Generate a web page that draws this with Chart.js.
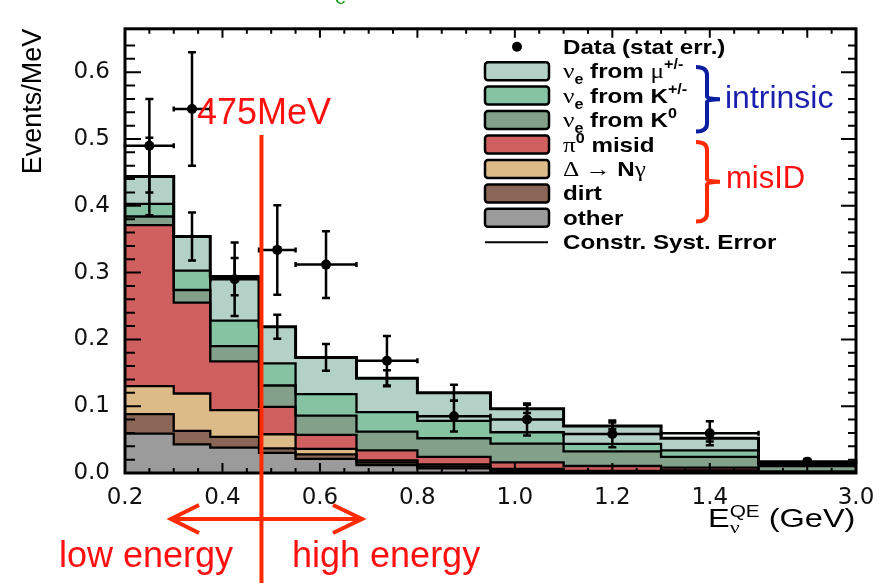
<!DOCTYPE html>
<html lang="en">
<head>
<meta charset="UTF-8">
<title>MiniBooNE nu_e candidates</title>
<script src="https://cdn.jsdelivr.net/npm/chart.js@4.4.3/dist/chart.umd.min.js"></script>
<style>
    * { margin: 0; padding: 0; }
    body { background: #fff; }
    .chartBox { width: 889px; height: 583px; }
</style>
</head>
<body>
<div class="chartBox"><canvas id="myChart" width="889" height="583"></canvas></div>
<script>
// bin edges in GeV, the last bin (1.5 - 3.0) is squeezed on the axis
const binEdges = [0.2, 0.3, 0.375, 0.475, 0.55, 0.675, 0.8, 0.95, 1.1, 1.3, 1.5, 3.0];
const binCenters = [0.25, 0.3375, 0.425, 0.5125, 0.6125, 0.7375, 0.875, 1.025, 1.2, 1.4, 2.25];

// stacked MC components, events/MeV per bin (bottom to top)
const other = [0.059, 0.043, 0.038, 0.030, 0.021, 0.012, 0.007, 0.003, 0.001, 0.002, 0.0005];
const dirt  = [0.029, 0.020, 0.016, 0.007, 0.007, 0.004, 0.003, 0.002, 0.001, 0.001, 0.0005];
const deltaNg = [0.042, 0.056, 0.040, 0.021, 0.008, 0.003, 0.003, 0.001, 0.001, 0.001, 0.0002];
const pi0 = [0.241, 0.136, 0.073, 0.041, 0.021, 0.015, 0.011, 0.010, 0.0075, 0.004, 0.0013];
const nueK0 = [0.013, 0.019, 0.023, 0.032, 0.029, 0.028, 0.028, 0.028, 0.022, 0.016, 0.008];
const nueKpm = [0.019, 0.029, 0.038, 0.033, 0.032, 0.029, 0.026, 0.017, 0.011, 0.010, 0.003];
const nueMu = [0.041, 0.051, 0.066, 0.055, 0.055, 0.051, 0.042, 0.035, 0.027, 0.018, 0.003];
const systErr = [0.058, 0.036, 0.028, 0.018, 0.020, 0.012, 0.012, 0.006, 0.005, 0.005, 0.002];

// data with stat errors
const dataY   = [0.49, 0.545, 0.29, 0.334, 0.312, 0.168, 0.085, 0.080, 0.0585, 0.0595, 0.017];
const dataErr = [0.07, 0.085, 0.055, 0.067, 0.05, 0.037, 0.023, 0.024, 0.020, 0.018, 0.004];

const xTickLabels = [0.2, 0.4, 0.6, 0.8, 1.0, 1.2, 1.4, 3.0];
const cutEnergy = 0.48;

// axis position: linear up to 1.5 GeV, then 1.5-3.0 packed into 0.2
const toAxis = e => e <= 1.5 ? e : 1.5 + (e - 1.5) * 0.2 / 1.5;

const layers = [
    { label: 'other', values: other, color: '#9b9b9b' },
    { label: 'dirt', values: dirt, color: '#8a6656' },
    { label: 'Delta', values: deltaNg, color: '#ddbb88' },
    { label: 'pi0 misid', values: pi0, color: '#d05f5f' },
    { label: 'nue K0', values: nueK0, color: '#82a08a' },
    { label: 'nue K+/-', values: nueKpm, color: '#85c3a3' },
    { label: 'nue mu', values: nueMu, color: '#b3d1c6' }
];

let cum = other.map(() => 0);
const datasets = layers.map((l, i) => {
    cum = cum.map((c, j) => c + l.values[j]);
    const top = cum.slice();
    return {
        label: l.label,
        data: binEdges.map((e, j) => ({ x: toAxis(e), y: top[Math.min(j, top.length - 1)] })),
        stepped: true,
        fill: i === 0 ? 'origin' : '-1',
        backgroundColor: l.color,
        borderColor: '#000',
        borderWidth: i === layers.length - 1 ? 3 : 2.3,
        pointRadius: 0
    };
});
const mcTotal = cum;

function richText(ctx, x, y, parts, sx) {
    ctx.save();
    ctx.translate(x, y);
    ctx.scale(sx, 1);
    let cx = 0;
    parts.forEach(p => {
        ctx.font = p.font;
        ctx.fillText(p.t, cx, p.dy || 0);
        if (!p.stay) cx += ctx.measureText(p.t).width;
    });
    ctx.restore();
}

const B = 'bold 21px "Liberation Sans"';
const G = '22px "Liberation Serif"';
const SUB = 'bold 14px "Liberation Sans"';

const decor = {
    id: 'decor',
    afterDraw(chart) {
        const { ctx, chartArea: a, scales: { x, y } } = chart;
        ctx.save();
        ctx.strokeStyle = '#000';
        ctx.fillStyle = '#000';

        // MC constrained syst error
        ctx.lineWidth = 2.5;
        binCenters.forEach((c, i) => {
            const px = x.getPixelForValue(toAxis(c));
            const y1 = y.getPixelForValue(mcTotal[i] - systErr[i]);
            const y2 = y.getPixelForValue(mcTotal[i] + systErr[i]);
            ctx.beginPath();
            ctx.moveTo(px, y1); ctx.lineTo(px, y2);
            ctx.moveTo(px - 4, y1); ctx.lineTo(px + 4, y1);
            ctx.moveTo(px - 4, y2); ctx.lineTo(px + 4, y2);
            ctx.stroke();
        });

        // data points
        binCenters.forEach((c, i) => {
            const px = x.getPixelForValue(toAxis(c));
            const py = y.getPixelForValue(dataY[i]);
            const xl = x.getPixelForValue(toAxis(binEdges[i]));
            const xr = x.getPixelForValue(toAxis(binEdges[i + 1]));
            const y1 = y.getPixelForValue(dataY[i] - dataErr[i]);
            const y2 = y.getPixelForValue(dataY[i] + dataErr[i]);
            ctx.beginPath();
            ctx.moveTo(xl, py); ctx.lineTo(xr, py);
            ctx.moveTo(xl, py - 2.5); ctx.lineTo(xl, py + 2.5);
            ctx.moveTo(xr, py - 2.5); ctx.lineTo(xr, py + 2.5);
            ctx.moveTo(px, y1); ctx.lineTo(px, y2);
            ctx.moveTo(px - 4, y1); ctx.lineTo(px + 4, y1);
            ctx.moveTo(px - 4, y2); ctx.lineTo(px + 4, y2);
            ctx.stroke();
            ctx.beginPath();
            ctx.arc(px, py, 5, 0, Math.PI * 2);
            ctx.fill();
        });

        // frame and inward ticks
        ctx.lineWidth = 3;
        ctx.strokeRect(a.left, a.top, a.right - a.left, a.bottom - a.top);
        ctx.lineWidth = 2;
        ctx.beginPath();
        y.ticks.forEach(t => {
            if (t.value <= 0 || t.value >= y.max - 0.004) return;
            const py = y.getPixelForValue(t.value);
            const major = Math.abs(t.value * 10 - Math.round(t.value * 10)) < 1e-6;
            ctx.moveTo(a.left, py); ctx.lineTo(a.left + (major ? 16 : 10), py);
            ctx.moveTo(a.right, py); ctx.lineTo(a.right - (major ? 15 : 8), py);
        });
        x.ticks.forEach(t => {
            if (t.value <= x.min + 1e-6 || t.value >= x.max - 1e-6) return;
            const px = x.getPixelForValue(t.value);
            const k = (t.value - 0.2) / 0.2;
            const major = Math.abs(k - Math.round(k)) < 1e-6;
            ctx.moveTo(px, a.bottom); ctx.lineTo(px, a.bottom - (major ? 10 : 5));
            ctx.moveTo(px, a.top); ctx.lineTo(px, a.top + (major ? 9 : 5));
        });
        ctx.stroke();

        // x axis title
        ctx.textBaseline = 'alphabetic';
        ctx.textAlign = 'left';
        richText(ctx, 708, 527, [
            { t: 'E', font: '25px "Liberation Sans"' },
            { t: 'ν', font: '17px "Liberation Serif"', dy: 6, stay: true },
            { t: 'QE', font: '16px "Liberation Sans"', dy: -10 },
            { t: ' (GeV)', font: '25px "Liberation Sans"' }
        ], 1.3);

        // legend
        const rowY = i => 46.7 + i * 24.45;
        ctx.beginPath();
        ctx.arc(517, rowY(0), 5, 0, Math.PI * 2);
        ctx.fill();
        const boxOrder = [6, 5, 4, 3, 2, 1, 0];
        boxOrder.forEach((li, r) => {
            const cy = rowY(r + 1);
            ctx.beginPath();
            ctx.roundRect(485, cy - 9, 64, 18, 3);
            ctx.fillStyle = layers[li].color;
            ctx.fill();
            ctx.lineWidth = 2.5;
            ctx.stroke();
        });
        ctx.lineWidth = 2;
        ctx.beginPath();
        ctx.moveTo(485, rowY(8)); ctx.lineTo(548, rowY(8));
        ctx.stroke();
        ctx.fillStyle = '#000';
        const nue = [{ t: 'ν', font: G }, { t: 'e', font: SUB, dy: 6 }];
        const rows = [
            [{ t: 'Data (stat err.)', font: B }],
            nue.concat([{ t: ' from ', font: B }, { t: 'μ', font: G }, { t: '+/-', font: SUB, dy: -9 }]),
            nue.concat([{ t: ' from K', font: B }, { t: '+/-', font: SUB, dy: -9 }]),
            nue.concat([{ t: ' from K', font: B }, { t: '0', font: SUB, dy: -9 }]),
            [{ t: 'π', font: G }, { t: '0', font: SUB, dy: -9 }, { t: ' misid', font: B }],
            [{ t: 'Δ → ', font: G }, { t: 'N', font: B }, { t: 'γ', font: G }],
            [{ t: 'dirt', font: B }],
            [{ t: 'other', font: B }],
            [{ t: 'Constr. Syst. Error', font: B }]
        ];
        rows.forEach((parts, r) => richText(ctx, 563, rowY(r) + 7, parts, 1.15));

        // brackets
        const bracket = (y1, y2, color) => {
            const ym = (y1 + y2) / 2;
            ctx.strokeStyle = color;
            ctx.lineWidth = 4;
            ctx.beginPath();
            ctx.moveTo(696, y1);
            ctx.quadraticCurveTo(707, y1, 707, y1 + 8);
            ctx.lineTo(707, ym - 3);
            ctx.quadraticCurveTo(707, ym, 720, ym);
            ctx.moveTo(707, ym + 3);
            ctx.quadraticCurveTo(707, ym, 720, ym);
            ctx.moveTo(707, ym + 3);
            ctx.lineTo(707, y2 - 8);
            ctx.quadraticCurveTo(707, y2, 696, y2);
            ctx.stroke();
        };
        bracket(67, 131.5, '#0a1fa0');
        bracket(142, 221.5, '#ff2a00');
        ctx.font = '32px "Liberation Sans"';
        ctx.fillStyle = '#1b1fae';
        ctx.fillText('intrinsic', 725, 108);
        ctx.font = '31px "Liberation Sans"';
        ctx.fillStyle = '#ff1010';
        ctx.fillText('misID', 726, 188);

        // cut line, arrows and labels
        const cx = x.getPixelForValue(cutEnergy);
        ctx.strokeStyle = '#ff2a00';
        ctx.lineWidth = 4;
        ctx.beginPath();
        ctx.moveTo(cx, 135); ctx.lineTo(cx, 583);
        ctx.moveTo(170, 519); ctx.lineTo(363, 519);
        ctx.moveTo(199, 505); ctx.lineTo(171, 519); ctx.lineTo(199, 533);
        ctx.moveTo(333, 505); ctx.lineTo(362, 519); ctx.lineTo(333, 533);
        ctx.stroke();
        ctx.fillStyle = '#ff1010';
        ctx.font = '36px "Liberation Sans"';
        ctx.fillText('475MeV', 197, 124);
        ctx.fillText('low energy', 59, 567);
        ctx.fillText('high energy', 292, 567);

        // clipped title fragment at the top edge
        ctx.fillStyle = '#1a9a1a';
        ctx.font = '20px "Liberation Sans"';
        ctx.fillText('e', 335, 4);
        ctx.restore();
    }
};

new Chart(document.getElementById('myChart'), {
    type: 'line',
    data: { datasets },
    options: {
        responsive: false,
        animation: false,
        events: [],
        layout: { padding: { top: 11, right: 33, left: 0, bottom: 0 } },
        plugins: {
            legend: { display: false },
            tooltip: { enabled: false },
            filler: { drawTime: 'beforeDatasetsDraw' }
        },
        scales: {
            x: {
                type: 'linear',
                min: 0.2,
                max: 1.7,
                grid: { display: false, drawTicks: false },
                border: { display: false },
                afterFit: s => { s.height = 110; },
                ticks: {
                    stepSize: 0.05,
                    autoSkip: false,
                    maxRotation: 0,
                    padding: 11,
                    color: '#111',
                    font: { family: 'DejaVu Sans', size: 23 },
                    callback: v => {
                        const hit = xTickLabels.find(e => Math.abs(toAxis(e) - v) < 1e-6);
                        return hit === undefined ? '' : hit.toFixed(1);
                    }
                }
            },
            y: {
                min: 0,
                max: 0.665,
                grid: { display: false, drawTicks: false },
                border: { display: false },
                afterFit: s => { s.width = 125; },
                title: {
                    display: true,
                    text: 'Events/MeV',
                    align: 'end',
                    color: '#000',
                    padding: { top: 17, bottom: 0 },
                    font: { family: 'Liberation Sans', size: 27 }
                },
                ticks: {
                    stepSize: 0.02,
                    autoSkip: false,
                    padding: 15,
                    color: '#111',
                    font: { family: 'DejaVu Sans', size: 23 },
                    callback: v => Math.abs(v * 10 - Math.round(v * 10)) < 1e-6 ? v.toFixed(1) : ''
                }
            }
        }
    },
    plugins: [decor]
});
</script>
</body>
</html>
